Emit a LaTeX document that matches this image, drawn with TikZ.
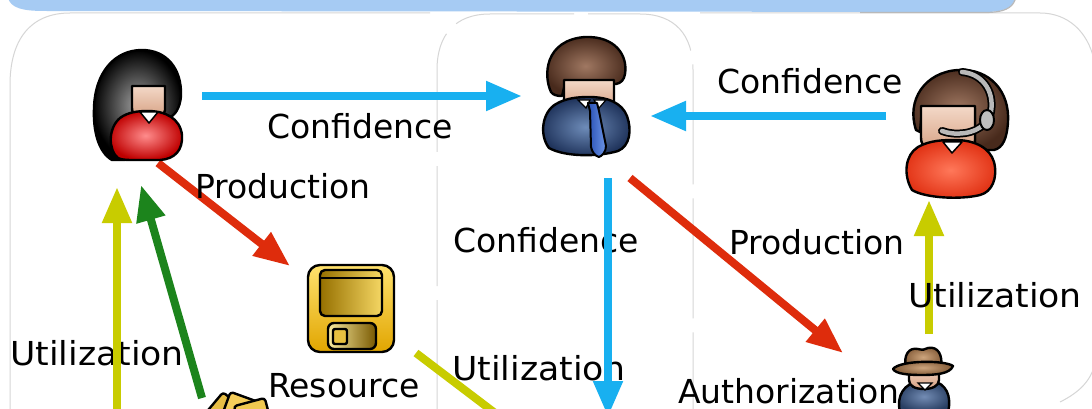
\documentclass[tikz,border=0pt]{standalone}
\usepackage{fontspec}
\setmainfont{DejaVu Sans}
\usetikzlibrary{arrows.meta}
\definecolor{cblue}{RGB}{24,176,240}
\definecolor{cred}{RGB}{222,44,12}
\definecolor{cyellow}{RGB}{200,204,0}
\definecolor{cgreen}{RGB}{28,132,28}
\definecolor{bandblue}{RGB}{166,203,243}
\definecolor{panelgray}{RGB}{214,214,214}
\definecolor{skin}{RGB}{238,200,176}
\definecolor{skindark}{RGB}{214,160,130}
\definecolor{hairlight}{RGB}{160,120,98}
\definecolor{hairdark}{RGB}{72,42,28}
\begin{document}
\begin{tikzpicture}[x=1pt,y=-1pt,
  conn/.style={line width=8pt,-{Triangle[length=36pt,width=28pt]}},
  lbl/.style={font=\fontsize{33}{40}\selectfont,inner sep=0pt,anchor=base west},
  icon/.style={draw=black,line width=2.4pt,line join=round},
  panel/.style={draw=panelgray,line width=1pt},
  skinfill/.style={shade,top color=skin!70!white,bottom color=skindark},
  brownhair/.style={shade,inner color=hairlight,outer color=hairdark}]
\useasboundingbox (0,0) rectangle (1092,409);
\clip (0,0) rectangle (1092,409);
\fill[white] (0,0) rectangle (1092,409);

% rounded panels behind the diagram
\path[panel] (10,420) -- (10,85) .. controls (10,40) and (30,13) .. (70,13) -- (430,13);
\path[panel,dash pattern=on 120pt off 14pt] (437,420) -- (437,70)
  .. controls (437,35) and (455,14) .. (490,14) -- (640,14)
  .. controls (675,14) and (693,35) .. (693,70) -- (693,420);
\path[panel] (700,13) -- (1040,13) .. controls (1068,13) and (1088,32) .. (1094,60);
\path[panel] (1096,360) .. controls (1092,380) and (1080,392) .. (1060,402);

% title band
\fill[bandblue] (8,-2) .. controls (11,8) and (22,11) .. (45,11) -- (985,12)
  .. controls (1004,12) and (1012,8) .. (1016,-2) -- cycle;
\draw[gray!55,line width=1.2pt] (860,12.5) -- (985,12.5) .. controls (1004,12.5) and (1012,8) .. (1015,0);

% labels lying under the connectors
\node[lbl] (tConfA) at (267,139) {Confidence};
\node[lbl] (tConfB) at (717,94) {Confidence};
\node[lbl] (tConfC) at (453,252) {Confidence};
\node[lbl] (tProdB) at (729,254) {Production};
\node[lbl] (tUtilA) at (10,365) {\scalebox{1.05}[1]{Utilization}};
\node[lbl] (tRes) at (268,397) {Resource};
\node[lbl] (tUtilB) at (452,380) {\scalebox{1.05}[1]{Utilization}};
\node[lbl] (tAuth) at (678,403) {Authorization};

% connector end points
\coordinate (womanR) at (202,96);
\coordinate (bossL) at (522,96);
\coordinate (headsetL) at (886,116);
\coordinate (bossR) at (650,116);
\coordinate (bossB) at (608,178);
\coordinate (bossDown) at (608,417);
\coordinate (womanB) at (158,163);
\coordinate (diskTL) at (290,266);
\coordinate (bossBR) at (630,178);
\coordinate (hatTL) at (843,353);
\coordinate (womanBase) at (117,425);
\coordinate (womanBL) at (117,187);
\coordinate (moneyT) at (202,398);
\coordinate (womanBM) at (141,185);
\coordinate (diskBR) at (416,353);
\coordinate (diskOut) at (520,432);
\coordinate (hatT) at (929,334);
\coordinate (headsetB) at (929,200);

% connectors
\draw[conn,cblue] (womanR) -- (bossL);
\draw[conn,cblue] (headsetL) -- (bossR);
\draw[conn,cblue] (bossB) -- (bossDown);
\draw[conn,cred] (womanB) -- (diskTL);
\draw[conn,cred] (bossBR) -- (hatTL);
\draw[conn,cyellow] (womanBase) -- (womanBL);
\draw[conn,cgreen] (moneyT) -- (womanBM);
\draw[line width=8pt,cyellow] (diskBR) -- (diskOut);
\draw[conn,cyellow] (hatT) -- (headsetB);

% labels lying over the connectors
\node[lbl] (tProdA) at (195,198) {Production};
\node[lbl] (tUtilC) at (908,307) {\scalebox{1.05}[1]{Utilization}};

% woman with long black hair
\path[icon,shade,inner color=gray!75,outer color=black] (112,160)
  .. controls (98,152) and (93,130) .. (94,108)
  .. controls (95,72) and (115,50) .. (142,50)
  .. controls (166,50) and (182,68) .. (181,96)
  .. controls (180,108) and (175,116) .. (168,118) -- (125,160) -- cycle;
\path[icon,skinfill] (132,86) -- (165,86) -- (165,110)
  .. controls (165,116) and (159,118) .. (148,118)
  .. controls (137,118) and (132,115) .. (132,108) -- cycle;
\path[icon,shade,inner color=red!45!white,outer color=red!75!black] (118,158)
  .. controls (108,150) and (108,128) .. (120,118)
  .. controls (128,112) and (138,111) .. (148,111)
  .. controls (165,111) and (180,118) .. (182,135)
  .. controls (183,150) and (175,159) .. (160,160) -- (130,160)
  .. controls (124,160) and (120,159) .. (118,158) -- cycle;
\filldraw[fill=white,draw=black,line width=1.5pt,line join=round] (140,112) -- (149,123) -- (158,112) -- cycle;

% man in a suit
\path[icon,brownhair] (551,92)
  .. controls (543,75) and (545,40) .. (585,37)
  .. controls (615,36) and (628,55) .. (625,74)
  .. controls (624,80) and (621,83) .. (616,84) -- (565,84) -- (562,96)
  .. controls (557,96) and (553,95) .. (551,92) -- cycle;
\path[icon,skinfill] (564,80) -- (614,80) -- (614,102)
  .. controls (614,108) and (605,110) .. (589,110)
  .. controls (572,110) and (564,107) .. (564,100) -- cycle;
\path[icon,shade,inner color={rgb,255:red,110;green,140;blue,185},outer color={rgb,255:red,30;green,50;blue,90}] (549,148)
  .. controls (539,135) and (542,112) .. (556,104)
  .. controls (566,98) and (578,97) .. (589,97)
  .. controls (608,97) and (622,103) .. (627,116)
  .. controls (632,130) and (630,146) .. (618,151)
  .. controls (598,157) and (565,157) .. (549,148) -- cycle;
\filldraw[fill=white,draw=black,line width=1.2pt] (578,100) -- (586,108) -- (590,100) -- cycle;
\filldraw[fill=white,draw=black,line width=1.2pt] (594,100) -- (599,108) -- (606,100) -- cycle;
\path[draw=black,line width=2pt,line join=round,shade,left color={rgb,255:red,40;green,80;blue,180},right color={rgb,255:red,110;green,150;blue,230}] (588,103) -- (597,103) -- (599,111) -- (606,146)
  .. controls (606,152) and (602,156) .. (599,157)
  .. controls (595,156) and (592,152) .. (591,147) -- (590,111) -- cycle;

% woman with a headset
\path[icon,brownhair] (916,130)
  .. controls (906,100) and (925,72) .. (958,70)
  .. controls (990,68) and (1010,92) .. (1008,122)
  .. controls (1007,138) and (1003,148) .. (994,150) -- (975,150) -- (975,108) -- (922,108) -- (920,132) -- cycle;
\path[icon,skinfill] (921,106) -- (975,106) -- (975,140)
  .. controls (975,150) and (965,152) .. (948,152)
  .. controls (930,152) and (921,148) .. (921,138) -- cycle;
\path[icon,shade,inner color={rgb,255:red,255;green,120;blue,90},outer color={rgb,255:red,225;green,50;blue,20}] (912,190)
  .. controls (903,175) and (905,155) .. (918,147)
  .. controls (930,140) and (945,140) .. (955,140)
  .. controls (975,140) and (990,148) .. (994,162)
  .. controls (998,178) and (992,192) .. (980,195)
  .. controls (960,200) and (925,198) .. (912,190) -- cycle;
\filldraw[fill=white,draw=black,line width=1.5pt,line join=round] (943,142) -- (952,153) -- (962,142) -- cycle;
\draw[black,line width=8pt,line cap=round] (962,72) .. controls (985,74) and (996,95) .. (990,116);
\draw[gray!55,line width=4.5pt,line cap=round] (962,72) .. controls (985,74) and (996,95) .. (990,116);
\draw[black,line width=8pt,line cap=round] (984,124) .. controls (975,134) and (955,136) .. (942,131);
\draw[gray!55,line width=4.5pt,line cap=round] (984,124) .. controls (975,134) and (955,136) .. (942,131);
\filldraw[fill=gray!50,draw=black,line width=2pt] (987,120) ellipse [x radius=7pt,y radius=10pt];

% floppy disk
\path[icon,rounded corners=12pt,shade,top color={rgb,255:red,255;green,226;blue,110},bottom color={rgb,255:red,225;green,165;blue,0}] (308,265) rectangle (394,352);
\path[icon,rounded corners=5pt,shade,left color={rgb,255:red,150;green,112;blue,0},right color={rgb,255:red,245;green,215;blue,100}] (320,270) rectangle (382,316);
\draw[black,line width=1.6pt] (321,278) -- (381,278);
\path[icon,rounded corners=6pt,shade,left color={rgb,255:red,250;green,235;blue,160},right color={rgb,255:red,120;green,88;blue,0}] (328,323) rectangle (376,349);
\path[icon,rounded corners=2pt,fill={rgb,255:red,232;green,192;blue,64}] (333,329) rectangle (347,344);

% money bundle
\path[icon,fill={rgb,255:red,232;green,190;blue,70},rounded corners=3pt,rotate around={-40:(222,420)}] (205,398) rectangle (240,445);
\path[icon,fill={rgb,255:red,245;green,205;blue,90},rounded corners=3pt,rotate around={-20:(238,418)}] (222,396) rectangle (256,445);
\path[icon,fill={rgb,255:red,240;green,200;blue,80},rounded corners=3pt,rotate around={15:(252,420)}] (238,402) rectangle (270,445);

% man with a hat
\path[icon,shade,inner color={rgb,255:red,115;green,140;blue,180},outer color={rgb,255:red,40;green,62;blue,98}] (900,412)
  .. controls (896,396) and (904,383) .. (920,381) -- (932,381)
  .. controls (946,383) and (952,396) .. (948,412) -- cycle;
\path[icon,skinfill] (909,366) -- (939,366) -- (939,380)
  .. controls (939,386) and (932,389) .. (924,389)
  .. controls (915,389) and (909,386) .. (909,380) -- cycle;
\filldraw[fill=white,draw=black,line width=1.2pt] (918,383) -- (925,390) -- (932,383) -- cycle;
\path[icon,shade,inner color={rgb,255:red,205;green,165;blue,125},outer color={rgb,255:red,130;green,90;blue,55}] (906,368)
  .. controls (903,355) and (909,347) .. (918,349)
  .. controls (922,350) and (925,350) .. (928,348)
  .. controls (938,346) and (943,355) .. (941,368) -- cycle;
\path[icon,shade,inner color={rgb,255:red,205;green,165;blue,125},outer color={rgb,255:red,130;green,90;blue,55}] (893,369)
  .. controls (900,360) and (945,360) .. (953,366)
  .. controls (950,374) and (935,375) .. (922,375)
  .. controls (908,375) and (896,374) .. (893,369) -- cycle;
\end{tikzpicture}
\end{document}
